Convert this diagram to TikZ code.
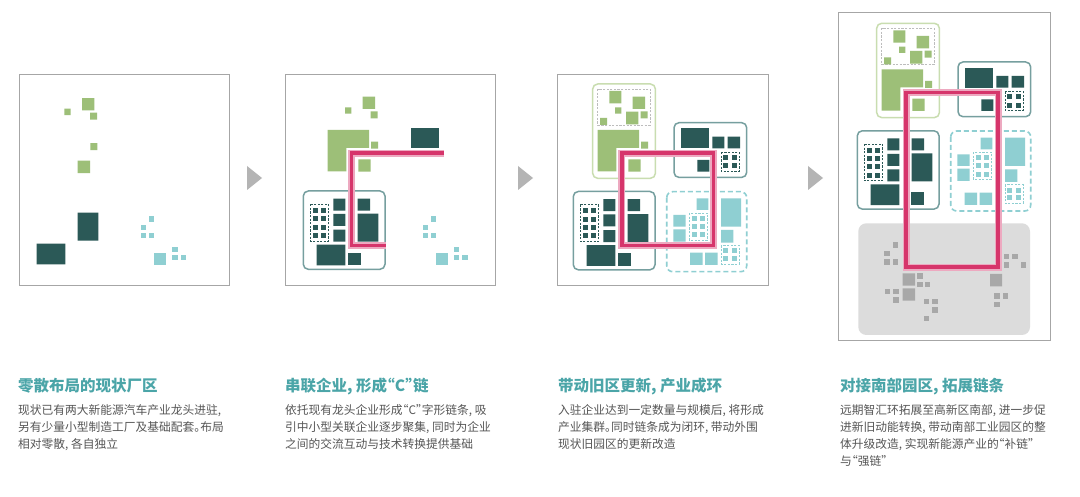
\documentclass[tikz,border=0pt]{standalone}
\usepackage{fontspec}
\newfontfamily\cjk[RawFeature=+halt]{Noto Sans CJK SC}
\usepackage{xcolor}
\usepackage{tikz}
\usetikzlibrary{positioning}

\definecolor{leafgreen}{HTML}{9DBF78}
\definecolor{paleleaf}{HTML}{C9DDB0}
\definecolor{deepteal}{HTML}{2B5957}
\definecolor{slateteal}{HTML}{769F9F}
\definecolor{mist}{HTML}{8FCFD2}
\definecolor{chain}{HTML}{D6356B}
\definecolor{chainglow}{HTML}{EDA9C0}
\definecolor{framegray}{HTML}{A6A6A6}
\definecolor{cuegray}{HTML}{B4B4B4}
\definecolor{palegray}{HTML}{BDBDBD}
\definecolor{zonegray}{HTML}{DCDCDC}
\definecolor{dotgray}{HTML}{A8A8A8}
\definecolor{headteal}{HTML}{4BA5A8}
\definecolor{bodygray}{HTML}{555555}

\begin{document}
\begin{tikzpicture}[
  x=1pt, y=-1pt,
  frame/.style={draw=framegray, line width=0.8},
  cue/.style={fill=cuegray},
  chainline/.style={draw=chain, line width=3.8, preaction={draw=chainglow, line width=6.6}},
  solidring/.style={line width=1.5, rounded corners=5},
  finedash/.style={line width=0.6, dash pattern=on 2.2pt off 1.4pt},
  head/.style={font=\cjk\bfseries\fontsize{15.5}{18}\selectfont, text=headteal, anchor=base west, inner sep=0},
  body/.style={font=\cjk\fontsize{11.75}{17}\selectfont, text=bodygray, align=left, inner sep=0},
  greenseed/.pic={
    \fill[leafgreen] (40,12.7) rectangle (52.3,25) (22.3,23.3) rectangle (28.7,29.7)
      (48,27.3) rectangle (55,34.3) (48.3,57.7) rectangle (55.3,64.7)
      (35.7,75.3) rectangle (48,87.7);
  },
  greenblock/.pic={
    \fill[leafgreen] (5,46) -- (46.3,46) -- (46.3,64) -- (23.7,64) -- (23.7,87.3) -- (5,87.3) -- cycle;
  },
  greenring/.pic={
    \draw[paleleaf, solidring] (0,0) rectangle (62.7,94.3);
    \draw[palegray, finedash] (5,5) rectangle (57.3,41);
    \fill[leafgreen] (16.7,7) rectangle (28.7,19.3) (33.3,27.7) rectangle (45.7,40.3)
      (7.3,34) rectangle (14.3,41);
  },
  darkseed/.pic={
    \fill[deepteal] (54.3,22.7) rectangle (75,50.7) (13.3,53.7) rectangle (42,74.3);
  },
  darkring/.pic={
    \draw[slateteal, solidring] (0,0) rectangle (81.7,78.3);
    \draw[deepteal, finedash] (6.7,13.3) rectangle (25.3,50);
    \foreach \u in {9.3,17.3} \foreach \v in {17,25.3,33.7,42}
      \fill[deepteal] (\u,\v) rectangle ++(5,5);
    \fill[deepteal] (30,7.7) rectangle (42,19.7) (30,23) rectangle (42,35)
      (30,38.7) rectangle (42,50.7) (54.3,7.7) rectangle (66.7,19.7);
  },
  urseed/.pic={
    \fill[deepteal] (7,5.7) rectangle (35.3,25.7);
  },
  urring/.pic={
    \draw[slateteal, solidring] (0,0) rectangle (72.7,54.7);
    \draw[deepteal, finedash] (47,29.5) rectangle (65,48.5);
    \foreach \u in {49.3,57.7} \foreach \v in {32.3,40.7}
      \fill[deepteal] (\u,\v) rectangle ++(5,5);
    \fill[deepteal] (38.3,14) rectangle (50.3,25.7) (53.7,14) rectangle (66,25.7)
      (23.3,37.3) rectangle (35.3,49);
  },
  mistseed/.pic={
    \foreach \p in {(8,0),(0,8.4),(0,16.7),(8,16.7),(31.3,30.4),(31.3,38.7),(39.7,38.7)}
      \fill[mist] \p rectangle ++(5.3,5.3);
    \fill[mist] (13.3,36.4) rectangle (25.3,48.4);
  },
  mistring/.pic={
    \draw[mist, line width=1.6, dash pattern=on 5pt off 3pt, rounded corners=6] (0,0) rectangle (80,80);
    \fill[mist] (30,6.7) rectangle (41.7,18.3) (54.3,6.7) rectangle (74.3,35)
      (6.7,23.3) rectangle (19,35) (6.7,37.7) rectangle (19,50) (54.3,38.3) rectangle (66.7,51);
    \draw[mist, finedash] (22.7,21.3) rectangle (40.7,48.5) (54.3,53.8) rectangle (72.4,72.2);
    \foreach \u in {25,33.3} \foreach \v in {24,32.3,40.7}
      \fill[mist] (\u,\v) rectangle ++(5,5);
    \foreach \u in {56.7,65} \foreach \v in {56.7,64.3}
      \fill[mist] (\u,\v) rectangle ++(5,5);
  }
]
\fill[white] (0,0) rectangle (1080,497);

\draw[frame] (19,74) rectangle (229,285);
\draw[frame] (285,74) rectangle (495,285);
\draw[frame] (557,74) rectangle (768,285);
\draw[frame] (838,12) rectangle (1050,340);

\fill[cue] (247,166) -- (262,178) -- (247,190) -- cycle;
\fill[cue] (518,166) -- (533,178) -- (518,190) -- cycle;
\fill[cue] (808,166) -- (823,178) -- (808,190) -- cycle;

\pic at (42,85.4) {greenseed};
\pic at (23.4,190) {darkseed};
\pic at (141,216.3) {mistseed};

\pic at (322.7,84) {greenseed};
\pic at (322.7,84) {greenblock};
\pic at (303.3,191) {darkseed};
\pic at (303.3,191) {darkring};
\fill[deepteal] (348.3,253) rectangle (360.6,265.3);
\pic at (404,122.7) {urseed};
\pic at (422.7,216.3) {mistseed};
\draw[chainline] (444,153.3) -- (351.5,153.3) -- (351.5,245.5) -- (386,245.5);

\pic at (592.7,84) {greenseed};
\pic at (592.7,84) {greenblock};
\pic at (592.7,84) {greenring};
\pic at (573.3,191.5) {darkseed};
\pic at (573.3,191.5) {darkring};
\fill[deepteal] (618.3,253.5) rectangle (630.6,265.8);
\pic at (674,122.7) {urseed};
\pic at (674,122.7) {urring};
\pic at (666.7,191.7) {mistring};
\fill[mist] (690,252.7) rectangle (702.7,265) (705,252.7) rectangle (717.7,265);
\draw[chainline] (621.7,153.3) rectangle (713.5,245.5);

\pic at (876.7,23.3) {greenseed};
\pic at (876.7,23.3) {greenblock};
\pic at (876.7,23.3) {greenring};
\pic at (857.3,130.8) {darkseed};
\pic at (857.3,130.8) {darkring};
\fill[deepteal] (911,192.5) rectangle (923.6,204.8);
\pic at (958,62) {urseed};
\pic at (958,62) {urring};
\pic at (950.7,131) {mistring};
\fill[mist] (964.7,192.7) rectangle (977,205) (979.7,192.7) rectangle (992,205);
\fill[zonegray, rounded corners=8] (858.3,223.3) rectangle (1030,335);
\foreach \p in {(892.7,242.3),(884.3,251),(884.3,259.3),(892.7,259.3),(917.3,273.3),
    (917.3,281.7),(925,281.7),(885,289),(893.3,289),(893.3,297.3),(924,299),(932.3,299),
    (932.3,307.3),(924,315.7),(1004,254),(1012.3,254),(1004,262.3),(1021,262.3),
    (994.3,293.3),(1002.7,293.3),(994.3,301.7)}
  \fill[dotgray] \p rectangle ++(5.4,5.4);
\fill[dotgray] (902.7,273.3) rectangle ++(12.3,12.3) (902.7,288.3) rectangle ++(12.3,12.3)
  (990,274) rectangle ++(12,12.3);
\draw[chainline] (906.3,92.6) rectangle (998.3,267.3);

\node[head] (t1) at (18,391) {零散布局的现状厂区};
\node[body, below=13pt of t1.base west, anchor=north west] (b1)
  {现状已有两大新能源汽车产业龙头进驻,\\另有少量小型制造工厂及基础配套。布局\\相对零散, 各自独立};
\node[head] (t2) at (285,391) {串联企业, 形成“C”链};
\node[body, below=13pt of t2.base west, anchor=north west] (b2)
  {依托现有龙头企业形成“C”字形链条, 吸\\引中小型关联企业逐步聚集, 同时为企业\\之间的交流互动与技术转换提供基础};
\node[head] (t3) at (558,391) {带动旧区更新, 产业成环};
\node[body, below=13pt of t3.base west, anchor=north west] (b3)
  {入驻企业达到一定数量与规模后, 将形成\\产业集群。同时链条成为闭环, 带动外围\\现状旧园区的更新改造};
\node[head] (t4) at (840,391) {对接南部园区, 拓展链条};
\node[body, below=13pt of t4.base west, anchor=north west] (b4)
  {远期智汇环拓展至高新区南部, 进一步促\\进新旧动能转换, 带动南部工业园区的整\\体升级改造, 实现新能源产业的“补链”\\与“强链”};
\end{tikzpicture}
\end{document}
